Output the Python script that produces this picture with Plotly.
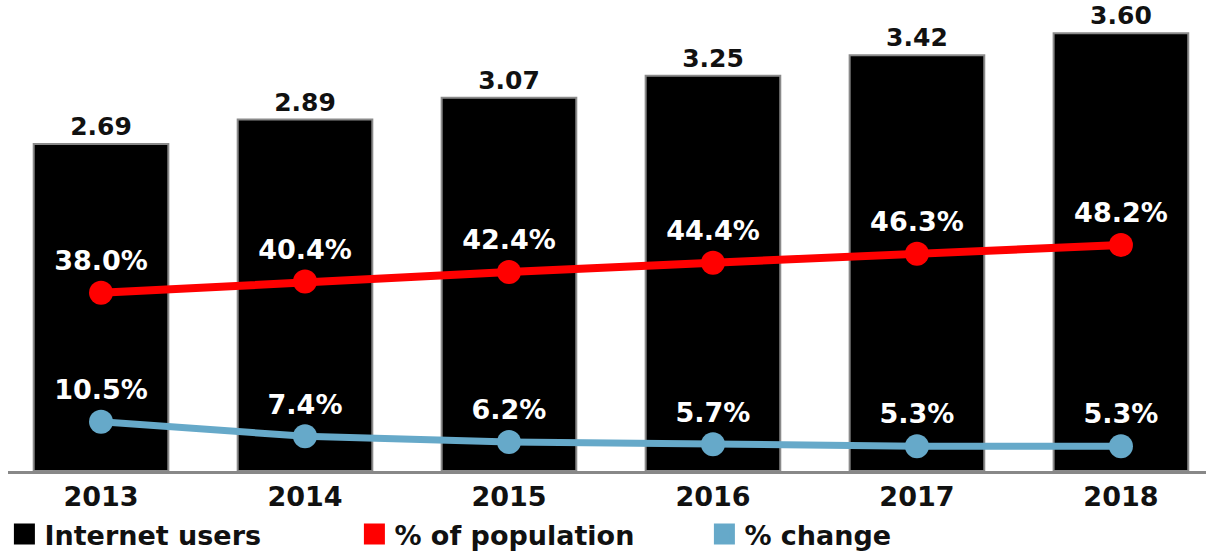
import plotly.graph_objects as go

years = ["2013", "2014", "2015", "2016", "2017", "2018"]
users = [2.69, 2.89, 3.07, 3.25, 3.42, 3.60]
pct_population = [38.0, 40.4, 42.4, 44.4, 46.3, 48.2]
pct_change = [10.5, 7.4, 6.2, 5.7, 5.3, 5.3]

user_labels = [f"{v:.2f}" for v in users]
pop_labels = [f"{v:.1f}%" for v in pct_population]
chg_labels = [f"{v:.1f}%" for v in pct_change]

FONT = "DejaVu Sans"
RED = "#ff0000"
BLUE = "#66a9c9"

fig = go.Figure()

fig.add_trace(go.Bar(
    x=years, y=users, name="Internet users", width=0.66,
    marker=dict(color="#000000", line=dict(color="#8a8a8a", width=2)),
    text=user_labels, textposition="outside", cliponaxis=False,
    textfont=dict(family=FONT, size=25, color="#111111", weight="bold"),
    showlegend=False,
))

fig.add_trace(go.Scatter(
    x=years, y=pct_population, yaxis="y2", mode="lines+markers+text",
    line=dict(color=RED, width=8), marker=dict(color=RED, size=24),
    text=pop_labels, textposition="top center", cliponaxis=False,
    textfont=dict(family=FONT, size=27, color="#ffffff", weight="bold"),
    showlegend=False,
))

fig.add_trace(go.Scatter(
    x=years, y=pct_change, yaxis="y2", mode="lines+markers+text",
    line=dict(color=BLUE, width=7), marker=dict(color=BLUE, size=24),
    text=chg_labels, textposition="top center", cliponaxis=False,
    textfont=dict(family=FONT, size=27, color="#ffffff", weight="bold"),
    showlegend=False,
))

# legend entries (square swatches)
for name, col in [("Internet users", "#000000"), ("% of population", RED), ("% change", BLUE)]:
    fig.add_trace(go.Scatter(
        x=[None], y=[None], mode="markers", name=name,
        marker=dict(symbol="square", color=col, size=16, line=dict(color=col, width=5)),
        showlegend=True,
    ))

fig.update_layout(
    width=1206, height=552,
    margin=dict(l=8, r=0, t=8, b=81, autoexpand=False),
    paper_bgcolor="white", plot_bgcolor="white",
    barmode="overlay",
    xaxis=dict(type="category", range=[-0.456, 5.417], showgrid=False,
               showline=True, linecolor="#888888", linewidth=3, ticks="",
               tickfont=dict(family=FONT, size=27, color="#111111", weight="bold")),
    yaxis=dict(range=[0, 3.808], visible=False, showgrid=False),
    yaxis2=dict(range=[0, 98.7], overlaying="y", visible=False, showgrid=False),
    legend=dict(orientation="h", x=-0.003, xanchor="left", y=-0.1372, yanchor="middle",
                font=dict(family=FONT, size=27, color="#111111", weight="bold"),
                entrywidth=305, entrywidthmode="pixels",
                itemsizing="trace", bgcolor="rgba(0,0,0,0)"),
)

fig.write_html("out.html", config={"displayModeBar": False},
               post_script="document.body.style.margin='0';")
